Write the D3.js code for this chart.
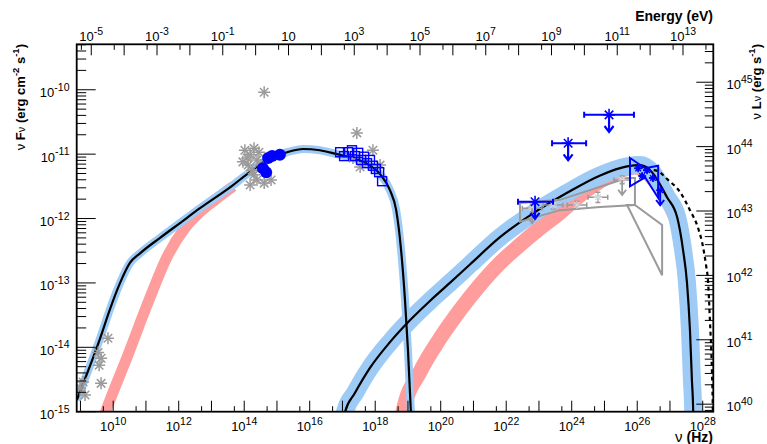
<!DOCTYPE html>
<html><head><meta charset="utf-8">
<script src="https://cdn.jsdelivr.net/npm/d3@7"></script>
<style>body{margin:0;background:#fff}svg{display:block}text{font-family:"Liberation Sans",Arial,Helvetica,sans-serif}</style>
</head><body><svg id="c" width="767" height="444"></svg>
<script>
// ---------- data (log10 ν [Hz], log10 νFν [erg cm^-2 s^-1]) ----------
const synchModel = [[8.89,-14.82],[9.29,-14.29],[9.60,-13.86],[9.90,-13.41],[10.21,-13.00],[10.51,-12.69],[10.82,-12.54],[11.43,-12.30],[12.04,-12.07],[12.65,-11.84],[13.66,-11.48],[14.09,-11.31],[14.70,-11.09],[15.31,-10.97],[15.80,-10.92],[16.31,-10.94],[16.83,-11.00],[17.32,-11.06],[17.75,-11.15],[18.15,-11.31],[18.45,-11.56],[18.64,-11.87],[18.79,-12.49],[18.91,-13.27],[19.00,-14.04],[19.09,-15.01],[19.12,-15.4]];
const sscModel = [[16.95,-15.3],[17.08,-15.00],[17.38,-14.71],[17.84,-14.32],[18.45,-13.92],[19.06,-13.58],[19.67,-13.28],[20.28,-13.00],[20.90,-12.71],[21.81,-12.29],[22.82,-11.92],[23.86,-11.60],[24.87,-11.33],[25.69,-11.19],[26.09,-11.17],[26.45,-11.28],[26.91,-11.67],[27.22,-11.98],[27.40,-12.49],[27.52,-13.00],[27.61,-13.73],[27.67,-14.51],[27.71,-15.01],[27.72,-15.4]];
const intrinsicModel = [[26.09,-11.17],[26.24,-11.23],[26.61,-11.26],[26.94,-11.40],[27.31,-11.59],[27.61,-11.87],[27.86,-12.15],[28.01,-12.44],[28.10,-12.72],[28.16,-12.96],[28.22,-13.58],[28.28,-14.35],[28.31,-15.01],[28.32,-15.4]];
const synchAlt = [[9.63,-15.20],[9.77,-15.00],[10.45,-14.12],[11.09,-13.27],[11.67,-12.57],[12.19,-12.15],[12.65,-11.90],[13.11,-11.71],[13.66,-11.50]];
const sscAlt = [[18.76,-15.39],[18.85,-15.00],[19.37,-14.38],[19.98,-13.86],[20.59,-13.42],[21.20,-13.03],[21.81,-12.69],[22.42,-12.41],[23.03,-12.15],[23.64,-11.91],[24.25,-11.64],[24.87,-11.42],[25.48,-11.26],[25.93,-11.20],[26.33,-11.30],[26.70,-11.53],[27.00,-11.79],[27.25,-12.10],[27.43,-12.57],[27.55,-13.11],[27.64,-13.89],[27.71,-15.00],[27.72,-15.4]];

const archivalPts = [[9.08,-14.54],[9.14,-14.74],[8.99,-14.63],[9.54,-14.08],[9.63,-14.17],[9.57,-14.28],[9.63,-14.56],[9.84,-13.86],
  [14.02,-10.94],[14.18,-11.01],[14.30,-10.91],[14.39,-11.09],[14.12,-11.17],[14.24,-11.25],[14.45,-10.97],[14.51,-11.17],[14.09,-11.06],[14.30,-11.32],[14.18,-11.48],[14.61,-11.45],[14.82,-11.40],[13.96,-11.12],[14.39,-11.40],[14.61,-10.04],
  [17.44,-10.67],[17.93,-10.94],[18.15,-11.17],[17.32,-11.06],[17.54,-11.20]];
const opticalPts = [[14.73,-11.06],[14.85,-11.03],[15.09,-11.01],[14.57,-11.22],[14.67,-11.28]];
const xrayPts = [[16.93,-10.97],[17.05,-11.03],[17.17,-10.97],[17.29,-10.94],[17.38,-11.03],[17.48,-10.98],[17.57,-11.09],[17.66,-11.04],[17.75,-11.14],[17.84,-11.09],[17.93,-11.18],[18.02,-11.23],[18.12,-11.28],[18.21,-11.42]];
// [logν, logF, logν_lo, logν_hi]
const fermiUL = [[22.88,-11.74,22.36,23.43],[23.89,-10.83,23.40,24.44],[25.14,-10.39,24.38,25.90]];
// [logν, logF, dlogν, dlogF, upperLimit]
const vhePts = [[26.03,-11.22,0.12,0.05,0],[26.30,-11.25,0.12,0.05,0],[26.15,-11.34,0.10,0.05,0],[26.48,-11.37,0.12,0.06,0],[26.70,-11.56,0.10,0,1]];
const vheBowtie = [[25.78,-11.06],[26.24,-11.22],[26.64,-11.18],[26.64,-11.68],[26.24,-11.36],[25.78,-11.50]];
const histPts = [[22.79,-11.84,0.30,0.06,1],[23.43,-11.79,0.30,0.06,0],[24.16,-11.79,0.30,0.06,0],[24.80,-11.67,0.30,0.08,0],[25.54,-11.40,0.25,0.06,1]];
const histBowtieA = [[22.42,-11.76],[23.64,-11.71],[25.69,-11.37],[25.93,-11.37],[25.93,-11.79],[24.87,-11.82],[23.64,-11.87],[22.42,-12.05]];
const histBowtieB = [[25.69,-11.79],[26.76,-12.88],[26.76,-12.10],[25.93,-11.79]];

const nuTickLabels = [10,12,14,16,18,20,22,24,26,28];
const eTickLabels = [-5,-3,-1,1,3,5,7,9,11,13];
const fTickLabels = [-15,-14,-13,-12,-11,-10];
const lTickLabels = [40,41,42,43,44,45];

// ---------- layout ----------
const X0=76.7, X1=713.3, Y0=44.3, Y1=411.7;
const LOGDIST = 54.883;         // log10(4 pi d^2)
const lnu0=8.8855, lnu1=28.323, lf0=-15, lf1=-9.294, le0=-5.443, le1=13.922;
const x = d3.scaleLog().domain([10**lnu0,10**lnu1]).range([X0,X1]);
const y = d3.scaleLog().domain([10**lf0,10**lf1]).range([Y1,Y0]);
const xE = d3.scaleLog().domain([10**le0,10**le1]).range([X0,X1]);
const yL = d3.scaleLog().domain([10**(lf0+LOGDIST),10**(lf1+LOGDIST)]).range([Y1,Y0]);
const px = v => x(10**v), py = v => y(10**v);

const svg = d3.select('#c');
svg.append('rect').attr('width',767).attr('height',444).attr('fill','#fff');
svg.append('defs').append('clipPath').attr('id','clip').append('rect')
  .attr('x',X0).attr('y',Y0).attr('width',X1-X0).attr('height',Y1-Y0);
const g = svg.append('g').attr('clip-path','url(#clip)');
const line = d3.line().x(d=>px(d[0])).y(d=>py(d[1])).curve(d3.curveMonotoneX);
const poly = d3.line().x(d=>px(d[0])).y(d=>py(d[1])).curve(d3.curveLinearClosed);

const PINK='#ff9c9c', BLUEBAND='#9dcbf6', GRAY='#9a9a9a', BLUE='#0000ff';
// bands
g.append('path').attr('d',line(synchAlt)).attr('fill','none').attr('stroke',PINK).attr('stroke-width',11);
g.append('path').attr('d',line(sscAlt)).attr('fill','none').attr('stroke',PINK).attr('stroke-width',15);
g.append('path').attr('d',line(synchModel)).attr('fill','none').attr('stroke',BLUEBAND).attr('stroke-width',8);
g.append('path').attr('d',line(sscModel)).attr('fill','none').attr('stroke',BLUEBAND).attr('stroke-width',18);
// model lines
g.append('path').attr('d',line(intrinsicModel)).attr('fill','none').attr('stroke','#000').attr('stroke-width',2.2).attr('stroke-dasharray','4,3.5');
g.append('path').attr('d',line(synchModel)).attr('fill','none').attr('stroke','#000').attr('stroke-width',2.2);
g.append('path').attr('d',line(sscModel)).attr('fill','none').attr('stroke','#000').attr('stroke-width',2.2);

function star(sel,cx,cy,r,col,w){
  [[1,0],[0,1],[0.7071,0.7071],[0.7071,-0.7071]].forEach(([a,b])=>{
    sel.append('line').attr('x1',cx-a*r).attr('y1',cy-b*r).attr('x2',cx+a*r).attr('y2',cy+b*r)
      .attr('stroke',col).attr('stroke-width',w);
  });
}
function seg(sel,x1,y1,x2,y2,col,w){sel.append('line').attr('x1',x1).attr('y1',y1).attr('x2',x2).attr('y2',y2).attr('stroke',col).attr('stroke-width',w);}
function arrowDown(sel,cx,cy,len,col,w,head){
  seg(sel,cx,cy,cx,cy+len,col,w);
  sel.append('path').attr('d',`M${cx-head},${cy+len-head*1.3}L${cx},${cy+len}L${cx+head},${cy+len-head*1.3}`)
    .attr('fill','none').attr('stroke',col).attr('stroke-width',w);
}

// gray historical gamma shapes
g.append('path').attr('d',poly(histBowtieA)).attr('fill','none').attr('stroke',GRAY).attr('stroke-width',2);
g.append('path').attr('d',poly(histBowtieB)).attr('fill','none').attr('stroke',GRAY).attr('stroke-width',2);
histPts.forEach(d=>{
  const cx=px(d[0]), cy=py(d[1]);
  const xl=px(d[0]-d[2]), xh=px(d[0]+d[2]), yt=py(d[1]+d[3]), yb=py(d[1]-d[3]);
  seg(g,xl,cy,xh,cy,GRAY,1.5); seg(g,xl,cy-2.5,xl,cy+2.5,GRAY,1.5); seg(g,xh,cy-2.5,xh,cy+2.5,GRAY,1.5);
  seg(g,cx,yt,cx,yb,GRAY,1.5); seg(g,cx-2.5,yt,cx+2.5,yt,GRAY,1.5); seg(g,cx-2.5,yb,cx+2.5,yb,GRAY,1.5);
  star(g,cx,cy,4,'#d8d8d8',1.2);
  if(d[4]) arrowDown(g,cx,cy,15,GRAY,1.8,4);
});
// archival gray asterisks
archivalPts.forEach(d=>star(g,px(d[0]),py(d[1]),6,GRAY,1.5));

// blue data
xrayPts.forEach(d=>g.append('rect').attr('x',px(d[0])-4.5).attr('y',py(d[1])-4.5).attr('width',9).attr('height',9)
  .attr('fill','none').attr('stroke',BLUE).attr('stroke-width',1.4));
opticalPts.forEach(d=>g.append('circle').attr('cx',px(d[0])).attr('cy',py(d[1])).attr('r',6).attr('fill',BLUE));
fermiUL.forEach(d=>{
  const cx=px(d[0]), cy=py(d[1]), xl=px(d[2]), xh=px(d[3]);
  seg(g,xl,cy,xh,cy,BLUE,2);
  seg(g,xl,cy-3,xl,cy+3,BLUE,2); seg(g,xh,cy-3,xh,cy+3,BLUE,2);
  star(g,cx,cy,6,BLUE,1.6);
  arrowDown(g,cx,cy,17,BLUE,2.2,4.5);
});
g.append('path').attr('d',poly(vheBowtie)).attr('fill','none').attr('stroke',BLUE).attr('stroke-width',2);
vhePts.forEach(d=>{
  const cx=px(d[0]), cy=py(d[1]);
  seg(g,px(d[0]-d[2]),cy,px(d[0]+d[2]),cy,BLUE,1.8);
  if(d[3]) seg(g,cx,py(d[1]+d[3]),cx,py(d[1]-d[3]),BLUE,1.8);
  star(g,cx,cy,4,BLUE,1.4);
  if(d[4]) arrowDown(g,cx,cy,15,BLUE,2,4);
});

// ---------- axes ----------
const ax = svg.append('g');
ax.append('rect').attr('x',X0).attr('y',Y0).attr('width',X1-X0).attr('height',Y1-Y0)
  .attr('fill','none').attr('stroke','#000').attr('stroke-width',1.8);
function tick(x1,y1,x2,y2){ax.append('line').attr('x1',x1).attr('y1',y1).attr('x2',x2).attr('y2',y2).attr('stroke','#000').attr('stroke-width',1);}
for(let e=8;e<=28;e++){
  const v=10**e; if(v>=x.domain()[0]&&v<=x.domain()[1]){const X=x(v); tick(X,Y1,X,Y1-11);}
  const m=5*10**e; if(m>=x.domain()[0]&&m<=x.domain()[1]){const X=x(m); tick(X,Y1,X,Y1-5.5);}
}
for(let e=-6;e<=14;e++){
  const v=10**e; if(v>=xE.domain()[0]&&v<=xE.domain()[1]){const X=xE(v); tick(X,Y0,X,Y0+11);}
  const m=5*10**e; if(m>=xE.domain()[0]&&m<=xE.domain()[1]){const X=xE(m); tick(X,Y0,X,Y0+5.5);}
}
for(let e=-16;e<=-9;e++) for(let k=1;k<=9;k++){
  const v=k*10**e; if(v<y.domain()[0]||v>y.domain()[1]) continue;
  const Y=y(v); tick(X0,Y,X0+(k===1?19:9.5),Y);
}
for(let e=39;e<=46;e++) for(let k=1;k<=9;k++){
  const v=k*10**e; if(v<yL.domain()[0]||v>yL.domain()[1]) continue;
  const Y=yL(v); tick(X1,Y,X1-(k===1?17:8.5),Y);
}
function powLabel(X,Y,exp,anchor){
  const t=ax.append('text').attr('x',X).attr('y',Y).attr('text-anchor',anchor).attr('font-size',13).attr('fill','#000');
  t.append('tspan').text('10');
  if(exp!==1) t.append('tspan').attr('dy',-6.5).attr('font-size',10.5).text(exp);
}
nuTickLabels.forEach(e=>powLabel(x(10**e),431,e,'middle'));
eTickLabels.forEach(e=>powLabel(xE(10**e),41,e,'middle'));
fTickLabels.forEach(e=>powLabel(69.5,y(10**e)+7.5,e,'end'));
lTickLabels.forEach(e=>powLabel(726.5,yL(10**e)+7,e,'start'));

// titles
ax.append('text').attr('x',713).attr('y',21).attr('text-anchor','end').attr('font-size',14).attr('font-weight','bold').text('Energy (eV)');
const tN=ax.append('text').attr('x',713).attr('y',442).attr('text-anchor','end').attr('font-size',14);
tN.append('tspan').attr('font-size',15).text('ν ');
tN.append('tspan').attr('font-weight','bold').text('(Hz)');
const tF=ax.append('text').attr('transform','translate(25,44) rotate(-90)').attr('text-anchor','end').attr('font-size',13).attr('font-weight','bold');
tF.append('tspan').attr('font-weight','normal').text('ν ');
tF.append('tspan').text('F');
tF.append('tspan').attr('font-weight','normal').attr('font-size',11).text('ν');
tF.append('tspan').text(' (erg cm');
tF.append('tspan').attr('dy',-6).attr('font-size',9.5).text('-2');
tF.append('tspan').attr('dy',6).text(' s');
tF.append('tspan').attr('dy',-6).attr('font-size',9.5).text('-1');
tF.append('tspan').attr('dy',6).text(')');
const tL=ax.append('text').attr('transform','translate(761,44) rotate(-90)').attr('text-anchor','end').attr('font-size',13).attr('font-weight','bold');
tL.append('tspan').attr('font-weight','normal').text('ν ');
tL.append('tspan').text('L');
tL.append('tspan').attr('font-weight','normal').attr('font-size',11).text('ν');
tL.append('tspan').text(' (erg s');
tL.append('tspan').attr('dy',-6).attr('font-size',9.5).text('-1');
tL.append('tspan').attr('dy',6).text(')');
</script></body></html>
